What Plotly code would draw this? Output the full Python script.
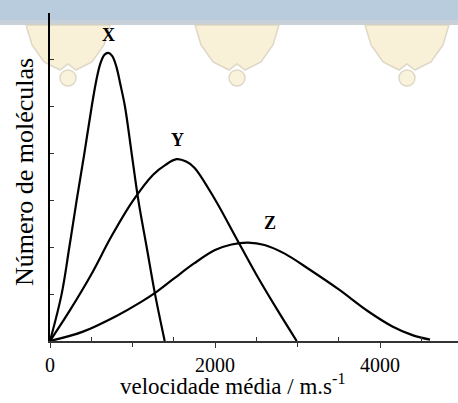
import plotly.graph_objects as go

# ---- data ----
x_speed = [0, 141, 234, 323, 416, 505, 560, 610, 660, 707, 755, 805, 850, 909, 990, 1071, 1172, 1273, 1390]
x_count = [0, 1.0, 2.0, 3.0, 4.0, 5.0, 5.55, 5.92, 6.11, 6.15, 6.08, 5.85, 5.5, 5.0, 4.0, 3.0, 2.0, 1.0, 0]

y_speed = [0, 250, 500, 750, 1000, 1250, 1400, 1535, 1650, 1750, 2000, 2250, 2500, 2750, 2990]
y_count = [0, 0.68, 1.42, 2.25, 2.98, 3.55, 3.76, 3.88, 3.83, 3.70, 3.02, 2.22, 1.42, 0.68, 0]

z_speed = [0, 400, 800, 1100, 1300, 1500, 1750, 2000, 2200, 2400, 2600, 2850, 3150, 3500, 3850, 4150, 4400, 4606]
z_count = [0, 0.20, 0.53, 0.83, 1.06, 1.33, 1.66, 1.94, 2.06, 2.10, 2.05, 1.86, 1.52, 1.10, 0.64, 0.31, 0.12, 0.03]

series_names = ["X", "Y", "Z"]
x_label_vals = [0, 2000, 4000]
x_label_text = ["0", "2000", "4000"]
x_unlabelled_vals = [1000, 3000]
x_minor_vals = [500, 1500, 2500, 3500, 4500]

FONT = "Liberation Serif"
W, H = 458, 403
ML, MR, MT, MB = 50, 0, 13, 62
PW, PH = W - ML - MR, H - MT - MB


def px(xp, yp):
    """pixel -> paper coords"""
    return (xp - ML) / PW, (H - MB - yp) / PH


fig = go.Figure()
for xs, ys, nm in [(x_speed, x_count, "X"), (y_speed, y_count, "Y"), (z_speed, z_count, "Z")]:
    fig.add_trace(go.Scatter(x=xs, y=ys, mode="lines", name=nm,
                             line=dict(color="black", width=2.2, shape="spline", smoothing=1.0),
                             showlegend=False, hoverinfo="skip"))

# curve labels
label_pos = {"X": (715, 6.54), "Y": (1548, 4.28), "Z": (2667, 2.52)}
for nm in series_names:
    lx, ly = label_pos[nm]
    fig.add_annotation(x=lx, y=ly, text=f"<b>{nm}</b>", showarrow=False,
                       font=dict(family=FONT, size=18, color="black"),
                       xanchor="center", yanchor="middle")

# axis titles
tx, ty = px(232, 384)
fig.add_annotation(x=tx, y=ty, xref="paper", yref="paper",
                   text="velocidade média / m.s<sup>-1</sup>", showarrow=False,
                   font=dict(family=FONT, size=23, color="black"),
                   xanchor="center", yanchor="middle")
tx, ty = px(24, 172)
fig.add_annotation(x=tx, y=ty, xref="paper", yref="paper",
                   text="Número de moléculas", showarrow=False, textangle=-90,
                   font=dict(family=FONT, size=26, color="black"),
                   xanchor="center", yanchor="middle")

# watermark (background decoration)
shapes = []
x0, y0 = px(0, 22)
x1, y1 = px(W, 0)
shapes.append(dict(type="rect", xref="paper", yref="paper", x0=x0, y0=y0, x1=x1, y1=y1,
                   fillcolor="rgb(184,204,222)", line=dict(width=0), layer="below"))
x0, y0 = px(0, 25)
x1, y1 = px(W, 20)
shapes.append(dict(type="rect", xref="paper", yref="paper", x0=x0, y0=y0, x1=x1, y1=y1,
                   fillcolor="rgb(200,208,216)", line=dict(width=0), layer="below"))
for c in [68, 237, 407]:
    pts = [(c - 42, 25), (c + 42, 25), (c + 36, 45), (c + 24, 62), (c + 8, 70), (c, 64),
           (c - 8, 70), (c - 24, 62), (c - 36, 45)]
    path = "M " + " L ".join(f"{px(a, b)[0]:.4f},{px(a, b)[1]:.4f}" for a, b in pts) + " Z"
    shapes.append(dict(type="path", xref="paper", yref="paper", path=path,
                       fillcolor="rgba(246,238,205,0.8)",
                       line=dict(color="rgba(215,208,190,0.8)", width=1.5), layer="below"))
    cx0, cy0 = px(c - 8, 86)
    cx1, cy1 = px(c + 8, 70)
    shapes.append(dict(type="circle", xref="paper", yref="paper", x0=cx0, y0=cy0, x1=cx1, y1=cy1,
                       fillcolor="rgba(246,238,205,0.7)",
                       line=dict(color="rgba(215,208,190,0.8)", width=1.5), layer="below"))

XR = [0, 4945]
fig.update_layout(
    width=W, height=H,
    margin=dict(l=ML, r=MR, t=MT, b=MB, autoexpand=False),
    paper_bgcolor="white", plot_bgcolor="rgba(0,0,0,0)",
    shapes=shapes,
    font=dict(family=FONT, color="black"),
    xaxis=dict(range=XR, showgrid=False, zeroline=False, automargin=False,
               showline=True, linecolor="#333", linewidth=1.5,
               tickmode="array", tickvals=x_label_vals, ticktext=x_label_text,
               ticks="outside", ticklen=5, tickwidth=1.2, tickcolor="#333",
               tickfont=dict(family=FONT, size=20, color="black"),
               minor=dict(tickmode="array", tickvals=x_minor_vals, ticks="inside", ticklen=4,
                          tickwidth=1.2, tickcolor="#333"),
               fixedrange=True),
    xaxis2=dict(range=XR, overlaying="x", side="bottom", anchor="y", automargin=False,
                showgrid=False, zeroline=False, showline=False,
                tickmode="array", tickvals=x_unlabelled_vals, showticklabels=False,
                ticks="outside", ticklen=5, tickwidth=1.2, tickcolor="#333",
                fixedrange=True),
    yaxis=dict(range=[0, 7], showgrid=False, zeroline=False, automargin=False,
               showline=True, linecolor="black", linewidth=1.5,
               tickmode="linear", tick0=0, dtick=1,
               ticks="inside", ticklen=4, tickwidth=1, tickcolor="#333",
               showticklabels=False, fixedrange=True),
)
# dummy trace so xaxis2 is drawn
fig.add_trace(go.Scatter(x=[None], y=[None], xaxis="x2", yaxis="y", showlegend=False,
                         hoverinfo="skip"))

fig.write_html("out.html", config={"displayModeBar": False},
               post_script="document.body.style.margin='0';document.body.style.padding='0';")
